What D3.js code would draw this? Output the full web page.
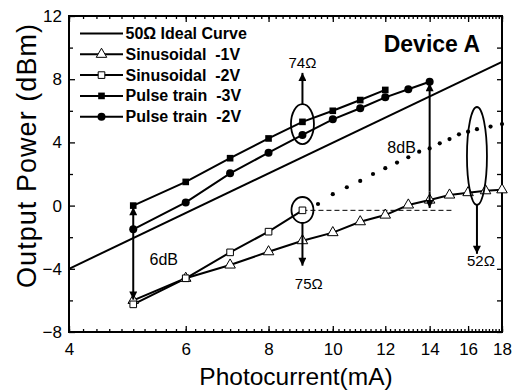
<!DOCTYPE html>
<html><head><meta charset="utf-8">
<script src="https://cdn.jsdelivr.net/npm/d3@7"></script>
<style>body{margin:0;background:#fff}svg{display:block}text{font-family:"Liberation Sans",Arial,Helvetica,sans-serif}</style>
</head><body>
<svg id="c" width="519" height="390"></svg>
<script>
// ---- data ----
const xTicks = [4, 6, 8, 10, 12, 14, 16, 18];
const yTicks = [-8, -4, 0, 4, 8, 12];
const yMinor = [-6, -2, 2, 6, 10];
const idealI = [4, 18];
const idealP = [-4, 9.1];
const sin1I = [5, 6, 7, 8, 9, 10, 11, 12, 13, 14, 15, 16, 17, 18];
const sin1P = [-6.0, -4.6, -3.76, -2.92, -2.22, -1.71, -1.02, -0.6, 0.04, 0.35, 0.67, 0.82, 0.94, 1.0];
const sin2I = [5, 6, 7, 8, 9];
const sin2P = [-6.25, -4.6, -2.96, -1.65, -0.3];
const pul3I = [5, 6, 7, 8, 9, 10, 11, 12];
const pul3P = [0, 1.5, 3.0, 4.25, 5.3, 6.0, 6.68, 7.32];
const pul2I = [5, 6, 7, 8, 9, 10, 11, 12, 13, 14];
const pul2P = [-1.5, 0.2, 2.04, 3.35, 4.47, 5.46, 6.16, 6.85, 7.36, 7.84];
const dotI = [9.5, 10, 10.5, 11, 11.5, 12, 12.5, 13, 13.5, 14, 14.5, 15, 15.5, 16, 16.5, 17.3, 18];
const dotP = [0.1, 0.72, 1.16, 1.56, 2.0, 2.37, 2.72, 3.06, 3.41, 3.62, 3.94, 4.21, 4.51, 4.68, 4.84, 5.0, 5.16];
const dashI = [9, 15.1];
const dashP = [-0.3, -0.3];
const legendLabels = ["50\u03A9 Ideal Curve", "Sinusoidal  -1V", "Sinusoidal  -2V", "Pulse train  -3V", "Pulse train  -2V"];

// ---- layout ----
const L = 69, R = 502, T = 16, B = 332;
const svg = d3.select("#c");
const x = d3.scaleLog().domain([4, 18]).range([L, R]);
const y = d3.scaleLinear().domain([-8, 12]).range([B, T]);
const zip = (a, b) => a.map((v, i) => [v, b[i]]);
const line = d3.line().x(d => x(d[0])).y(d => y(d[1]));

const defs = svg.append("defs");
defs.append("marker").attr("id", "ah").attr("viewBox", "0 0 10 10").attr("refX", 10).attr("refY", 5)
  .attr("markerWidth", 10).attr("markerHeight", 8).attr("markerUnits", "userSpaceOnUse").attr("orient", "auto-start-reverse")
  .append("path").attr("d", "M0,0 L10,5 L0,10 Z").attr("fill", "#000");

// ---- axes ----
function styleAxis(g) { g.select(".domain").remove(); g.selectAll("line").attr("stroke", "#000").attr("stroke-width", 1.3); }
const minorX = d3.range(4, 18.001, 0.2).map(v => +v.toFixed(1));
svg.append("g").attr("transform", `translate(0,${B})`).call(d3.axisBottom(x).tickValues(minorX).tickSize(-3).tickFormat("")).call(styleAxis);
svg.append("g").attr("transform", `translate(0,${T})`).call(d3.axisTop(x).tickValues(minorX).tickSize(-3).tickFormat("")).call(styleAxis);
svg.append("g").attr("transform", `translate(0,${B})`)
  .call(d3.axisBottom(x).tickValues(xTicks).tickSize(-6).tickPadding(11).tickFormat(d3.format("d"))).call(styleAxis);
svg.append("g").attr("transform", `translate(0,${T})`).call(d3.axisTop(x).tickValues(xTicks).tickSize(-6).tickFormat("")).call(styleAxis);
svg.append("g").attr("transform", `translate(${L},0)`)
  .call(d3.axisLeft(y).tickValues(yTicks).tickSize(-6).tickPadding(7)).call(styleAxis);
svg.append("g").attr("transform", `translate(${L},0)`).call(d3.axisLeft(y).tickValues(yMinor).tickSize(-4).tickFormat("")).call(styleAxis);
svg.append("g").attr("transform", `translate(${R},0)`).call(d3.axisRight(y).tickValues(yTicks.concat(yMinor)).tickSize(-5).tickFormat("")).call(styleAxis);
svg.selectAll(".tick text").attr("font-size", 17).attr("fill", "#000").attr("font-family", '"Liberation Sans",Arial,sans-serif');
svg.append("rect").attr("x", L).attr("y", T).attr("width", R - L).attr("height", B - T)
  .attr("fill", "none").attr("stroke", "#000").attr("stroke-width", 2);

// axis titles
svg.append("text").attr("x", 296).attr("y", 385).attr("text-anchor", "middle").attr("font-size", 24.5).text("Photocurrent(mA)");
svg.append("text").attr("transform", "translate(36,156) rotate(-90)").attr("text-anchor", "middle")
  .attr("font-size", 27).attr("textLength", 264).attr("lengthAdjust", "spacing").text("Output Power (dBm)");

// ---- series ----
const plot = svg.append("g");
function drawLine(I, P) {
  plot.append("path").datum(zip(I, P)).attr("d", line).attr("fill", "none").attr("stroke", "#000").attr("stroke-width", 2);
}
drawLine(idealI, idealP);
drawLine(sin1I, sin1P);
drawLine(sin2I, sin2P);
drawLine(pul3I, pul3P);
drawLine(pul2I, pul2P);

// dashed and dotted
plot.append("path").datum(zip(dashI, dashP)).attr("d", line).attr("fill", "none").attr("stroke", "#000")
  .attr("stroke-width", 1).attr("stroke-dasharray", "5,3");
plot.selectAll(".dot").data(zip(dotI, dotP)).join("circle").attr("cx", d => x(d[0])).attr("cy", d => y(d[1]))
  .attr("r", 2.1).attr("fill", "#000");

const tri = d3.symbol().type(d3.symbolTriangle).size(48);
const sq = d3.symbol().type(d3.symbolSquare).size(44);
function markers(I, P, kind) {
  const g = plot.append("g");
  const data = zip(I, P);
  if (kind === "tri") {
    g.selectAll("path").data(data).join("path").attr("d", tri).attr("transform", d => `translate(${x(d[0])},${y(d[1])})`)
      .attr("fill", "#fff").attr("stroke", "#000").attr("stroke-width", 1);
  } else if (kind === "osq") {
    g.selectAll("path").data(data).join("path").attr("d", sq).attr("transform", d => `translate(${x(d[0])},${y(d[1])})`)
      .attr("fill", "#fff").attr("stroke", "#000").attr("stroke-width", 1);
  } else if (kind === "fsq") {
    g.selectAll("path").data(data).join("path").attr("d", sq).attr("transform", d => `translate(${x(d[0])},${y(d[1])})`)
      .attr("fill", "#000");
  } else {
    g.selectAll("circle").data(data).join("circle").attr("cx", d => x(d[0])).attr("cy", d => y(d[1])).attr("r", 4).attr("fill", "#000");
  }
}
markers(sin1I, sin1P, "tri");
markers(sin2I, sin2P, "osq");
markers(pul3I, pul3P, "fsq");
markers(pul2I, pul2P, "fci");

// ---- annotations ----
const ann = svg.append("g").attr("fill", "none").attr("stroke", "#000");
function arrow(x1, y1, x2, y2) {
  ann.append("line").attr("x1", x1).attr("y1", y1).attr("x2", x2).attr("y2", y2).attr("stroke-width", 2)
    .attr("marker-end", "url(#ah)");
}
// 74 ohm
ann.append("ellipse").attr("cx", x(9)).attr("cy", y(5.16)).attr("rx", 11.5).attr("ry", 20).attr("stroke-width", 1.8);
arrow(x(9), y(5.16) - 20, x(9), y(8.4));
// 75 ohm
ann.append("ellipse").attr("cx", x(9)).attr("cy", y(-0.28)).attr("rx", 11).attr("ry", 13).attr("stroke-width", 1.8);
arrow(x(9), y(-0.28) + 13, x(9), y(-3.8));
// 52 ohm
ann.append("ellipse").attr("cx", x(16.5)).attr("cy", y(3.14)).attr("rx", 10).attr("ry", 49).attr("stroke-width", 1.8);
arrow(x(16.5), y(3.14) + 49, x(16.5), y(-3.05));
// 8 dB
arrow(x(14), y(0.9), x(14), y(-0.15));
arrow(x(14), y(0.9), x(14), y(7.75));
// 6 dB
arrow(x(5), y(-3), x(5), y(-0.1));
arrow(x(5), y(-3), x(5), y(-5.95));

const txt = svg.append("g").attr("fill", "#000");
txt.append("text").attr("x", x(9)).attr("y", y(8.7)).attr("text-anchor", "middle").attr("font-size", 15).text("74\u03A9");
txt.append("text").attr("x", x(9.2)).attr("y", y(-5.28)).attr("text-anchor", "middle").attr("font-size", 15).text("75\u03A9");
txt.append("text").attr("x", x(16.73)).attr("y", y(-3.82)).attr("text-anchor", "middle").attr("font-size", 15).text("52\u03A9");
txt.append("text").attr("x", x(12.7)).attr("y", y(3.33)).attr("text-anchor", "middle").attr("font-size", 16).text("8dB");
txt.append("text").attr("x", x(5.56)).attr("y", y(-3.76)).attr("text-anchor", "middle").attr("font-size", 16).text("6dB");
txt.append("text").attr("x", 480).attr("y", 52).attr("text-anchor", "end").attr("font-size", 23).attr("font-weight", "bold").text("Device A");

// ---- legend ----
const kinds = ["none", "tri", "osq", "fsq", "fci"];
const lg = svg.append("g");
legendLabels.forEach((lab, i) => {
  const yy = 33.5 + i * 20.8;
  lg.append("line").attr("x1", 80).attr("x2", 123).attr("y1", yy).attr("y2", yy).attr("stroke", "#000").attr("stroke-width", 2);
  const k = kinds[i];
  if (k === "tri") lg.append("path").attr("d", tri).attr("transform", `translate(101.5,${yy})`).attr("fill", "#fff").attr("stroke", "#000");
  if (k === "osq") lg.append("path").attr("d", sq).attr("transform", `translate(101.5,${yy})`).attr("fill", "#fff").attr("stroke", "#000");
  if (k === "fsq") lg.append("path").attr("d", sq).attr("transform", `translate(101.5,${yy})`).attr("fill", "#000");
  if (k === "fci") lg.append("circle").attr("cx", 101.5).attr("cy", yy).attr("r", 4).attr("fill", "#000");
  lg.append("text").attr("x", 125.5).attr("y", yy + 5.5).attr("font-size", 16).attr("font-weight", "bold")
    .style("white-space", "pre").attr("xml:space", "preserve").text(lab);
});
</script>
</body></html>
